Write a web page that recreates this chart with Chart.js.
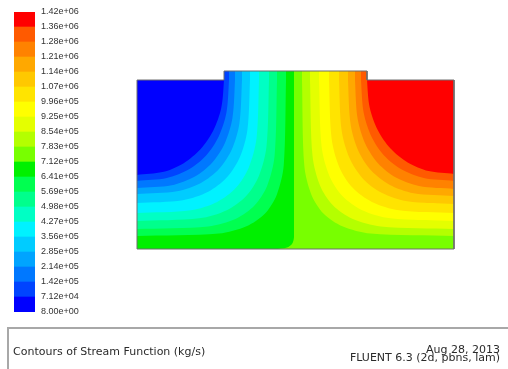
<!DOCTYPE html>
<html>
<head>
<meta charset="utf-8">
<script src="https://cdn.jsdelivr.net/npm/chart.js@4.4.0/dist/chart.umd.min.js"></script>
<style>
  body { margin: 0; background: #fff; }
  #wrap { position: relative; width: 508px; height: 369px; overflow: hidden; background: #fff; }
  #legend { position: absolute; left: 0; top: 0; }
  #field { position: absolute; left: 135px; top: 69px; }
  .footer { position: absolute; left: 7px; top: 327px; width: 540px; height: 80px;
            border-top: 2px solid #a8a8a8; border-left: 2px solid #a8a8a8; }
  .ftxt { position: absolute; font-family: "DejaVu Sans", sans-serif; font-size: 11px;
          line-height: 12px; color: #2a2a2a; white-space: nowrap; }
</style>
</head>
<body>
<div id="wrap">
  <canvas id="legend" width="90" height="330"></canvas>
  <canvas id="field" width="321" height="182"></canvas>
  <div class="footer"></div>
  <div class="ftxt" style="left:13px; top:346px;">Contours of Stream Function (kg/s)</div>
  <div class="ftxt" style="right:8px; top:344px;">Aug 28, 2013</div>
  <div class="ftxt" style="right:8px; top:352px;">FLUENT 6.3 (2d, pbns, lam)</div>
</div>
<script>
// colour bands, lowest value first
const bandColors = [
  '#0000ff', '#0044ff', '#0078ff', '#00a4ff', '#00ccff',
  '#00f2ff', '#00ffc4', '#00ff8c', '#00ff50', '#00f000',
  '#78ff00', '#b4ff00', '#e4ff00', '#ffff00', '#ffe400',
  '#ffc800', '#ffa800', '#ff8200', '#ff5a00', '#ff0000'
];

// level labels, lowest first
const tickLabels = [
  '8.00e+00', '7.12e+04', '1.42e+05', '2.14e+05', '2.85e+05', '3.56e+05', '4.27e+05',
  '4.98e+05', '5.69e+05', '6.41e+05', '7.12e+05', '7.83e+05', '8.54e+05', '9.25e+05',
  '9.96e+05', '1.07e+06', '1.14e+06', '1.21e+06', '1.28e+06', '1.36e+06', '1.42e+06'
];

// domain (x 0..317, y 0..178), inlet on top between x=87 and x=230
const domainOutline = [[0, 0], [0, 169], [87, 169], [87, 178], [230, 178], [230, 169], [317, 169], [317, 0], [0, 0]];
const floorLine = [[0, 0], [317, 0]];
const maskLeft = [[0, 169], [87, 169]];
const maskRight = [[230, 169], [317, 169]];

// dividing streamline (7.12e+05)
const dividingLine = [[0, 0], [138, 0], [150, 1.5], [155, 5], [157, 12], [157, 40], [157, 178]];

// left contours, lowest level first (left wall -> inlet)
const leftContours = [
  [[0, 74], [25.5, 76.9], [46.3, 85.6], [63.5, 99.7], [76.3, 118.4], [84.3, 141.2], [87, 169], [87, 178]],
  [[0, 68], [29.8, 70.9], [51.6, 79.4], [68.9, 93.3], [81.6, 112.3], [89.4, 136.2], [92, 169], [92, 178]],
  [[0, 61], [34.7, 63.8], [57.5, 72.3], [75.1, 86.3], [87.7, 105.6], [95.4, 130.8], [98, 169], [98, 178]],
  [[0, 55], [40, 57.8], [64, 66.1], [82, 80], [94.8, 99.5], [102.4, 125.6], [105, 169], [105, 178]],
  [[0, 46], [45.9, 48.8], [71.2, 57.2], [89.7, 71.4], [102.7, 91.5], [110.4, 119.1], [113, 169], [113, 178]],
  [[0, 36], [53.8, 38.8], [80.2, 47.1], [98.9, 61.2], [111.8, 81.6], [119.5, 110.4], [122, 169], [122, 178]],
  [[0, 28], [62.3, 30.7], [89.8, 38.8], [108.9, 52.7], [121.9, 73.1], [129.5, 102.5], [132, 169], [132, 178]],
  [[0, 20], [71.2, 22.6], [99, 30.3], [117.7, 43.7], [130.3, 63.6], [137.6, 93.2], [140, 169], [140, 178]],
  [[0, 13], [81.8, 15.4], [109.5, 22.7], [127.8, 35.2], [139.8, 54.3], [146.7, 83.4], [149, 169], [149, 178]]
];

// right contours, lowest level first (inlet -> right wall)
const rightContours = [
  [[165, 178], [165, 169], [167.3, 83.4], [174.4, 54.3], [186.7, 35.2], [205.3, 22.7], [233.6, 15.4], [317, 13]],
  [[173, 178], [173, 169], [175.5, 93.2], [183, 63.6], [195.9, 43.7], [215.2, 30.3], [243.7, 22.6], [317, 20]],
  [[182, 178], [182, 169], [184.6, 102.5], [192.4, 73.1], [205.7, 52.7], [225.2, 38.8], [253.3, 30.7], [317, 28]],
  [[192, 178], [192, 169], [194.6, 110.4], [202.4, 81.6], [215.7, 61.2], [234.9, 47.1], [261.9, 38.8], [317, 36]],
  [[202, 178], [202, 169], [204.6, 118.7], [212.5, 90.9], [225.7, 70.6], [244.6, 56.3], [270.3, 47.8], [317, 45]],
  [[211, 178], [211, 169], [213.6, 124.8], [221.3, 98.3], [234.2, 78.4], [252.4, 64.3], [276.6, 55.8], [317, 53]],
  [[218, 178], [218, 169], [220.6, 130.5], [228.4, 105], [241.2, 85.5], [258.9, 71.4], [282, 62.9], [317, 60]],
  [[224, 178], [224, 169], [226.7, 136.2], [234.5, 112.3], [247.3, 93.3], [264.8, 79.4], [286.8, 70.9], [317, 68]],
  [[230, 178], [230, 169], [232.7, 141.5], [240.7, 118.9], [253.5, 100.4], [270.7, 86.5], [291.5, 77.9], [317, 75]]
];

// colour bar
new Chart(document.getElementById('legend'), {
  type: 'bar',
  data: {
    labels: [''],
    datasets: bandColors.map(c => ({
      data: [1], backgroundColor: c, borderWidth: 0,
      barPercentage: 1, categoryPercentage: 1
    }))
  },
  options: {
    responsive: false,
    animation: false,
    layout: { padding: { left: 14, top: 12, bottom: 18, right: 0 } },
    plugins: { legend: { display: false }, tooltip: { enabled: false } },
    scales: {
      x: { stacked: true, display: false },
      y: {
        stacked: true, position: 'right', min: 0, max: 20,
        grid: { display: false, drawTicks: false },
        border: { display: false },
        afterFit: s => { s.width = 55; },
        ticks: {
          stepSize: 1, autoSkip: false, padding: 6, color: '#333',
          font: { family: 'Liberation Sans', size: 9 },
          callback: v => tickLabels[v]
        }
      }
    }
  }
});

// contour field
const toPoints = line => line.map(([x, y]) => ({ x, y }));
function area(line, color, smooth) {
  return {
    data: toPoints(line), fill: 'end', backgroundColor: color,
    borderColor: 'rgba(0,0,0,0)', borderWidth: 0, pointRadius: 0,
    tension: smooth ? 0.3 : 0
  };
}

const layers = [];
layers.push(area(floorLine, bandColors[10], false));
layers.push(area(dividingLine, bandColors[9], true));
for (let k = leftContours.length - 1; k >= 0; k--) {
  layers.push(area(leftContours[k], bandColors[k], true));
}
rightContours.forEach((line, k) => layers.push(area(line, bandColors[11 + k], true)));
layers.push(area(maskLeft, '#ffffff', false));
layers.push(area(maskRight, '#ffffff', false));
layers.push({
  data: toPoints(domainOutline), fill: false, borderColor: '#6e6e6e',
  borderWidth: 1, pointRadius: 0, tension: 0, clip: 4
});
// first pushed = painted first
layers.forEach((ds, i) => { ds.order = layers.length - i; });

new Chart(document.getElementById('field'), {
  type: 'line',
  data: { datasets: layers },
  options: {
    responsive: false,
    animation: false,
    layout: { padding: 2 },
    plugins: { legend: { display: false }, tooltip: { enabled: false } },
    scales: {
      x: { type: 'linear', min: 0, max: 317, display: false },
      y: { type: 'linear', min: 0, max: 178, display: false }
    }
  }
});
</script>
</body>
</html>
